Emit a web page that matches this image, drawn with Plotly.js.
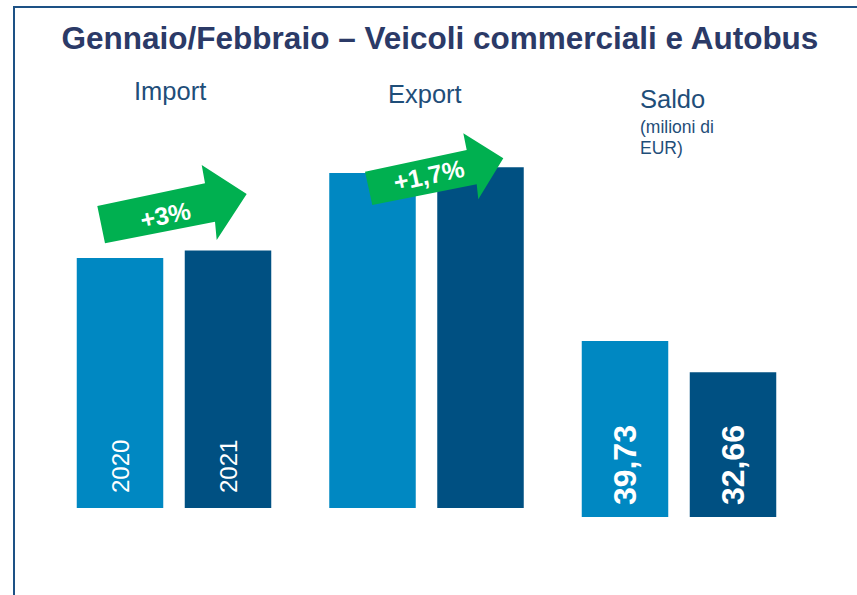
<!DOCTYPE html>
<html>
<head>
<meta charset="utf-8">
<script src="https://cdn.plot.ly/plotly-3.0.1.min.js"></script>
<style>html,body{margin:0;padding:0;background:#fff;}#chart{width:857px;height:595px;}</style>
</head>
<body>
<div id="chart"></div>
<script>
// ---- data ----
const categories = ["Import", "Export"];
const saldoCategory = ["Saldo"];
const years = ["2020", "2021"];
const values2020 = [100, 134];      // index, Import 2020 = 100
const values2021 = [103, 136.3];
const saldo2020 = [39.73];
const saldo2021 = [32.66];
const changeLabels = ["+3%", "+1,7%"];

// ---- styles ----
const W = 857, H = 595;
const px = x => x / W;
const py = y => 1 - y / H;
const FONT = "Liberation Sans, Arial, sans-serif";
const LIGHT = "#0088C2", DARK = "#005082", GREEN = "#00B050";
const NAVY = "#2B3A67", BLUE = "#1F4E79";
const PAD = "\u2002";

const traces = [
  {type: "bar", x: categories, y: values2020, xaxis: "x", yaxis: "y",
   marker: {color: LIGHT}, text: [PAD + years[0], ""], textposition: "inside",
   insidetextanchor: "start", textangle: -90,
   insidetextfont: {family: FONT, size: 24, color: "#ffffff"}, hoverinfo: "skip"},
  {type: "bar", x: categories, y: values2021, xaxis: "x", yaxis: "y",
   marker: {color: DARK}, text: [PAD + years[1], ""], textposition: "inside",
   insidetextanchor: "start", textangle: -90,
   insidetextfont: {family: FONT, size: 24, color: "#ffffff"}, hoverinfo: "skip"},
  {type: "bar", x: saldoCategory, y: saldo2020, xaxis: "x", yaxis: "y2",
   marker: {color: LIGHT}, texttemplate: "\u2008%{y:.2f}", textposition: "inside",
   insidetextanchor: "start", textangle: -90,
   insidetextfont: {family: FONT, size: 32, color: "#ffffff", weight: "bold"}, hoverinfo: "skip"},
  {type: "bar", x: saldoCategory, y: saldo2021, xaxis: "x", yaxis: "y2",
   marker: {color: DARK}, texttemplate: "\u2008%{y:.2f}", textposition: "inside",
   insidetextanchor: "start", textangle: -90,
   insidetextfont: {family: FONT, size: 32, color: "#ffffff", weight: "bold"}, hoverinfo: "skip"}
];

function poly(pts) {
  return "M" + pts.map(p => px(p[0]).toFixed(5) + "," + py(p[1]).toFixed(5)).join(" L") + " Z";
}
const arrow1 = [[97.3,206],[205,183.3],[201.7,165],[246.7,194],[216.7,240],[215,221.7],[105,243.3]];
const arrow2 = [[365,171.7],[466.7,150],[463.3,133.3],[503.3,158.3],[478.3,199.3],[476.7,184.3],[372.3,205]];

const hidden = {showgrid: false, zeroline: false, showticklabels: false, showline: false, ticks: ""};

const layout = {
  width: W, height: H,
  margin: {l: 0, r: 0, t: 0, b: 0},
  paper_bgcolor: "#ffffff", plot_bgcolor: "rgba(0,0,0,0)",
  showlegend: false,
  separators: ",.",
  barmode: "group",
  bargap: 0.1446,
  bargroupgap: 0.199,
  font: {family: FONT},
  title: {text: "Gennaio/Febbraio – Veicoli commerciali e Autobus",
          x: px(440), xanchor: "center", y: py(38), yanchor: "middle",
          font: {family: FONT, size: 31.5, color: NAVY, weight: "bold"}},
  xaxis: Object.assign({domain: [px(47.75), px(805.25)], range: [-0.5, 2.5],
          type: "category", categoryorder: "array",
          categoryarray: categories.concat(saldoCategory), anchor: "y", fixedrange: true}, hidden),
  yaxis: Object.assign({domain: [py(508), py(133)], range: [0, 150], anchor: "x", fixedrange: true}, hidden),
  yaxis2: Object.assign({domain: [py(517), py(295.5)], range: [0, 50], anchor: "x", fixedrange: true}, hidden),
  shapes: [
    {type: "rect", xref: "paper", yref: "paper", x0: px(14), x1: px(880), y0: py(620), y1: py(7),
     line: {color: "#1D5185", width: 2}, fillcolor: "rgba(0,0,0,0)", layer: "below"},
    {type: "path", xref: "paper", yref: "paper", path: poly(arrow1),
     fillcolor: GREEN, line: {width: 0}, layer: "above"},
    {type: "path", xref: "paper", yref: "paper", path: poly(arrow2),
     fillcolor: GREEN, line: {width: 0}, layer: "above"}
  ],
  annotations: [
    {xref: "paper", yref: "paper", x: px(170), y: py(90.5), text: categories[0], showarrow: false,
     xanchor: "center", yanchor: "middle", font: {family: FONT, size: 25.5, color: BLUE}},
    {xref: "paper", yref: "paper", x: px(424.6), y: py(94), text: categories[1], showarrow: false,
     xanchor: "center", yanchor: "middle", font: {family: FONT, size: 25.5, color: BLUE}},
    {xref: "paper", yref: "paper", x: px(638), y: py(99), text: saldoCategory[0], showarrow: false,
     xanchor: "left", yanchor: "middle", font: {family: FONT, size: 25.5, color: BLUE}},
    {xref: "paper", yref: "paper", x: px(638), y: py(127), text: "(milioni di", showarrow: false,
     xanchor: "left", yanchor: "middle", font: {family: FONT, size: 17.5, color: BLUE}},
    {xref: "paper", yref: "paper", x: px(638), y: py(148), text: "EUR)", showarrow: false,
     xanchor: "left", yanchor: "middle", font: {family: FONT, size: 17.5, color: BLUE}},
    {xref: "paper", yref: "paper", x: px(165.5), y: py(215), text: changeLabels[0], showarrow: false,
     xanchor: "center", yanchor: "middle", textangle: -12,
     font: {family: FONT, size: 25, color: "#ffffff", weight: "bold"}},
    {xref: "paper", yref: "paper", x: px(429), y: py(175), text: changeLabels[1], showarrow: false,
     xanchor: "center", yanchor: "middle", textangle: -12,
     font: {family: FONT, size: 25, color: "#ffffff", weight: "bold"}}
  ]
};

Plotly.newPlot("chart", traces, layout, {staticPlot: true, displayModeBar: false});
</script>
</body>
</html>
